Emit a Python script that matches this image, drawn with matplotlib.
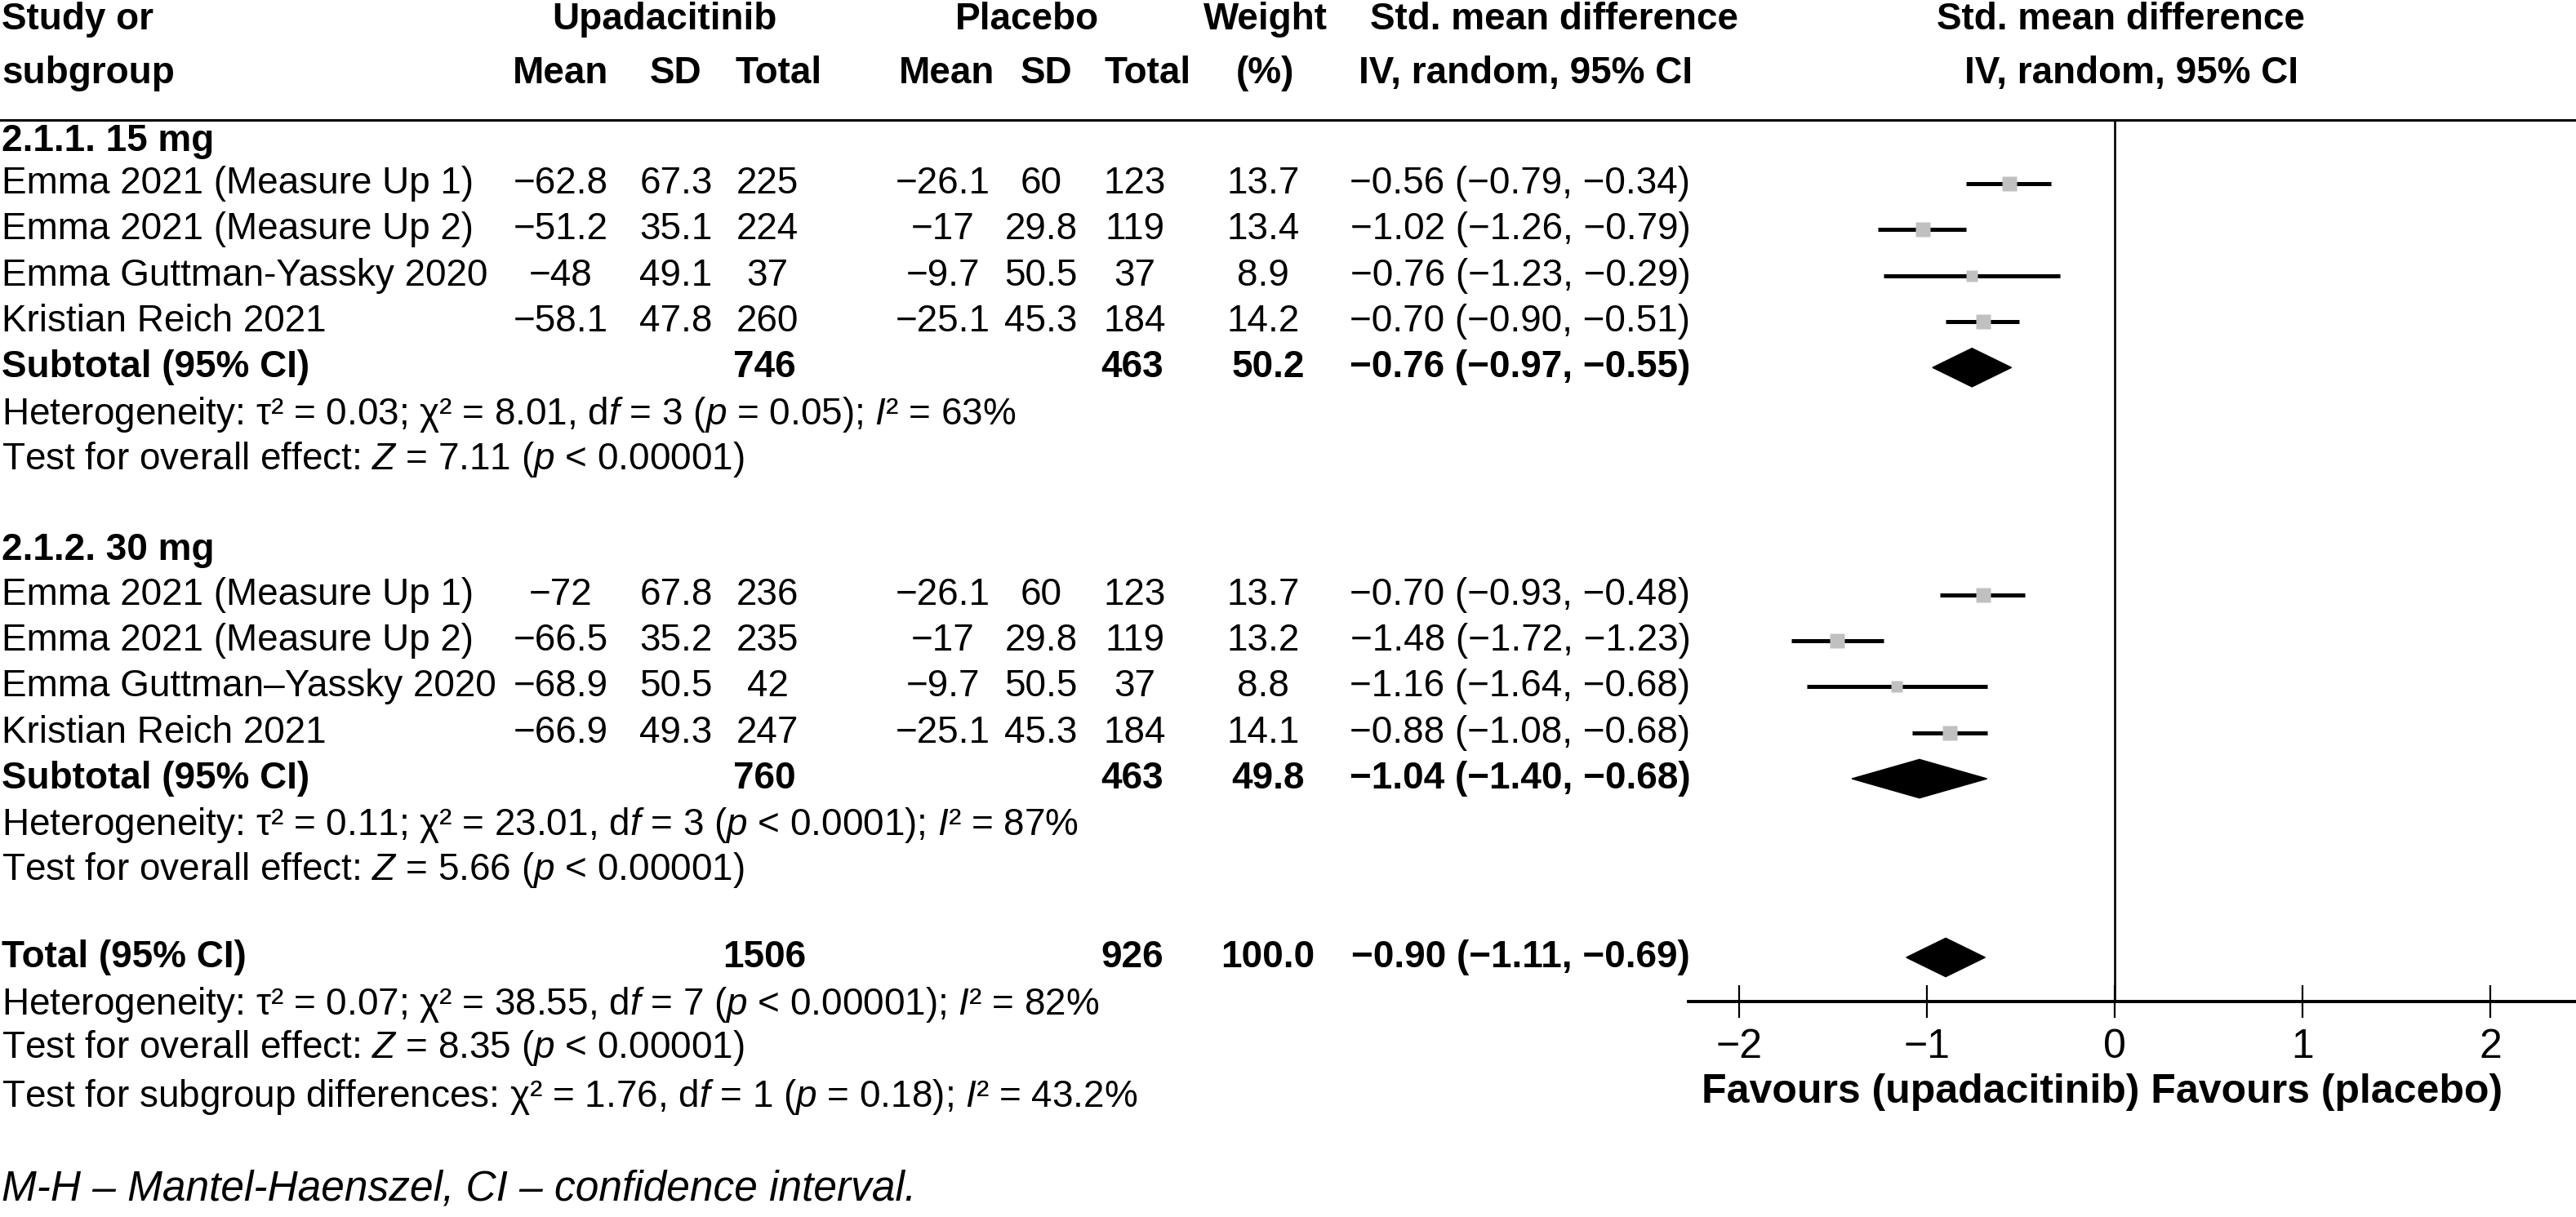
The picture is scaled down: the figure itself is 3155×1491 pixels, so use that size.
import numpy as np
import matplotlib
matplotlib.use('Agg')
import matplotlib.pyplot as plt
from matplotlib import transforms
from matplotlib.patches import Polygon

# data
studies_1 = ['Emma 2021 (Measure Up 1)', 'Emma 2021 (Measure Up 2)',
             'Emma Guttman-Yassky 2020', 'Kristian Reich 2021']
upa_mean_1 = [-62.8, -51.2, -48, -58.1]
upa_sd_1 = [67.3, 35.1, 49.1, 47.8]
upa_n_1 = [225, 224, 37, 260]
pla_mean_1 = [-26.1, -17, -9.7, -25.1]
pla_sd_1 = [60, 29.8, 50.5, 45.3]
pla_n_1 = [123, 119, 37, 184]
weight_1 = [13.7, 13.4, 8.9, 14.2]
smd_1 = [-0.56, -1.02, -0.76, -0.70]
lo_1 = [-0.79, -1.26, -1.23, -0.90]
hi_1 = [-0.34, -0.79, -0.29, -0.51]

studies_2 = ['Emma 2021 (Measure Up 1)', 'Emma 2021 (Measure Up 2)',
             'Emma Guttman\u2013Yassky 2020', 'Kristian Reich 2021']
upa_mean_2 = [-72, -66.5, -68.9, -66.9]
upa_sd_2 = [67.8, 35.2, 50.5, 49.3]
upa_n_2 = [236, 235, 42, 247]
pla_mean_2 = [-26.1, -17, -9.7, -25.1]
pla_sd_2 = [60, 29.8, 50.5, 45.3]
pla_n_2 = [123, 119, 37, 184]
weight_2 = [13.7, 13.2, 8.8, 14.1]
smd_2 = [-0.70, -1.48, -1.16, -0.88]
lo_2 = [-0.93, -1.72, -1.64, -1.08]
hi_2 = [-0.48, -1.23, -0.68, -0.68]

# subtotal 1, subtotal 2, total
pooled_upa_n = [746, 760, 1506]
pooled_pla_n = [463, 463, 926]
pooled_weight = [50.2, 49.8, 100.0]
pooled_smd = [-0.76, -1.04, -0.90]
pooled_lo = [-0.97, -1.40, -1.11]
pooled_hi = [-0.55, -0.68, -0.69]

het_1 = r'Heterogeneity: τ² = 0.03; χ² = 8.01, d$\mathit{f}$ = 3 ($\mathit{p}$ = 0.05); $\mathit{I}$² = 63%'
eff_1 = r'Test for overall effect: $\mathit{Z}$ = 7.11 ($\mathit{p}$ < 0.00001)'
het_2 = r'Heterogeneity: τ² = 0.11; χ² = 23.01, d$\mathit{f}$ = 3 ($\mathit{p}$ < 0.0001); $\mathit{I}$² = 87%'
eff_2 = r'Test for overall effect: $\mathit{Z}$ = 5.66 ($\mathit{p}$ < 0.00001)'
het_t = r'Heterogeneity: τ² = 0.07; χ² = 38.55, d$\mathit{f}$ = 7 ($\mathit{p}$ < 0.00001); $\mathit{I}$² = 82%'
eff_t = r'Test for overall effect: $\mathit{Z}$ = 8.35 ($\mathit{p}$ < 0.00001)'
sub_t = r'Test for subgroup differences: χ² = 1.76, d$\mathit{f}$ = 1 ($\mathit{p}$ = 0.18); $\mathit{I}$² = 43.2%'

ticks = [-2, -1, 0, 1, 2]

plt.rcParams['font.family'] = ['Liberation Sans', 'DejaVu Sans']
plt.rcParams['mathtext.fontset'] = 'custom'
plt.rcParams['mathtext.rm'] = 'Liberation Sans'
plt.rcParams['mathtext.it'] = 'Liberation Sans:italic'
plt.rcParams['mathtext.bf'] = 'Liberation Sans:bold'

W, H = 3155, 1491
fig = plt.figure(figsize=(W / 100, H / 100), dpi=100)
ax = fig.add_axes([2068 / W, 0, 1 - 2068 / W, 1])
ax.set_xlim(-2.27, 2.457)
ax.set_ylim(23.49, -3.0)

tr = transforms.blended_transform_factory(fig.transFigure, ax.transData)
fs = 33


def fmt(v, dec=None):
    s = f'{v:.{dec}f}' if dec is not None else f'{v:g}'
    return s.replace('-', '\u2212')


def ci_text(e, lo, hi):
    return f'{fmt(e, 2)} ({fmt(lo, 2)}, {fmt(hi, 2)})'


def put(x, y, s, ha='center', bold=False, size=fs, **kw):
    ax.text(x / W, y, s, transform=tr, ha=ha, va='center', fontsize=size,
            fontweight='bold' if bold else 'normal', **kw)


# column positions (px)
cx = dict(label=2, um=687, usd=828, un=940, pm=1155, psd=1275, pn=1390, w=1547, ci=1862)

# headers
put(2, -2.57, 'Study or', ha='left', bold=True)
put(2, -1.40, 'subgroup', ha='left', bold=True)
put(814, -2.57, 'Upadacitinib', bold=True)
put(1258, -2.57, 'Placebo', bold=True)
put(1550, -2.57, 'Weight', bold=True)
put(1903, -2.57, 'Std. mean difference', bold=True)
put(2598, -2.57, 'Std. mean difference', bold=True)
for x, s in [(687, 'Mean'), (828, 'SD'), (954, 'Total'), (1160, 'Mean'), (1282, 'SD'),
             (1406, 'Total'), (1549, '(%)'), (1869, 'IV, random, 95% CI'), (2610, 'IV, random, 95% CI')]:
    put(x, -1.40, s, bold=True)

rule_y = -0.39
ax.plot([0, 1], [rule_y, rule_y], transform=tr, color='black', lw=2.2, clip_on=False)

axis_y = 18.8


def group(title, ty, rows, names, um, usd, un, pm, psd, pn, w, e, lo, hi):
    put(2, ty, title, ha='left', bold=True)
    for i, y in enumerate(rows):
        put(2, y, names[i], ha='left')
        put(cx['um'], y, fmt(um[i]))
        put(cx['usd'], y, fmt(usd[i]))
        put(cx['un'], y, str(un[i]))
        put(cx['pm'], y, fmt(pm[i]))
        put(cx['psd'], y, fmt(psd[i]))
        put(cx['pn'], y, str(pn[i]))
        put(cx['w'], y, fmt(w[i], 1))
        put(cx['ci'], y, ci_text(e[i], lo[i], hi[i]))
        ax.hlines(y, lo[i], hi[i], color='black', lw=3.6, zorder=2)
        ax.plot(e[i], y, marker='s', ms=13 * (w[i] / 14.2) ** 0.4, color='#c0c0c0',
                mec='none', zorder=3)


def pooled(k, label, y):
    put(2, y, label, ha='left', bold=True)
    put(cx['un'] - 4, y, str(pooled_upa_n[k]), bold=True)
    put(cx['pn'] - 3, y, str(pooled_pla_n[k]), bold=True)
    put(cx['w'] + 6, y, fmt(pooled_weight[k], 1), bold=True)
    put(cx['ci'], y, ci_text(pooled_smd[k], pooled_lo[k], pooled_hi[k]), bold=True)
    h = 0.42
    ax.add_patch(Polygon([[pooled_lo[k], y], [pooled_smd[k], y - h],
                          [pooled_hi[k], y], [pooled_smd[k], y + h]],
                         closed=True, color='black', zorder=3))


group('2.1.1. 15 mg', 0.08, [1, 2, 3, 4], studies_1, upa_mean_1, upa_sd_1, upa_n_1,
      pla_mean_1, pla_sd_1, pla_n_1, weight_1, smd_1, lo_1, hi_1)
pooled(0, 'Subtotal (95% CI)', 5.0)
put(2, 6.02, het_1, ha='left')
put(2, 7.0, eff_1, ha='left')

group('2.1.2. 30 mg', 8.97, [9.95, 10.95, 11.95, 12.95], studies_2, upa_mean_2, upa_sd_2,
      upa_n_2, pla_mean_2, pla_sd_2, pla_n_2, weight_2, smd_2, lo_2, hi_2)
pooled(1, 'Subtotal (95% CI)', 13.95)
put(2, 14.97, het_2, ha='left')
put(2, 15.94, eff_2, ha='left')

pooled(2, 'Total (95% CI)', 17.84)
put(2, 18.87, het_t, ha='left')
put(2, 19.81, eff_t, ha='left')
put(2, 20.88, sub_t, ha='left')
put(2, 22.88, 'M-H \u2013 Mantel-Haenszel, CI \u2013 confidence interval.', ha='left',
    style='italic', size=37)

# line of no effect
ax.vlines(0, rule_y, axis_y, color='black', lw=1.9, zorder=1)

# axis
for s in ['top', 'right', 'left']:
    ax.spines[s].set_visible(False)
ax.spines['bottom'].set_position(('data', axis_y))
ax.spines['bottom'].set_linewidth(2.8)
ax.set_yticks([])
ax.set_xticks(ticks)
ax.tick_params(axis='x', direction='inout', length=29, width=1.6, pad=9, labelsize=36)
ax.patch.set_alpha(0)

ax.text(2575 / W, 20.77, 'Favours (upadacitinib) Favours (placebo)', transform=tr,
        ha='center', va='center', fontsize=36, fontweight='bold')

fig.savefig('out.png', dpi=100)
